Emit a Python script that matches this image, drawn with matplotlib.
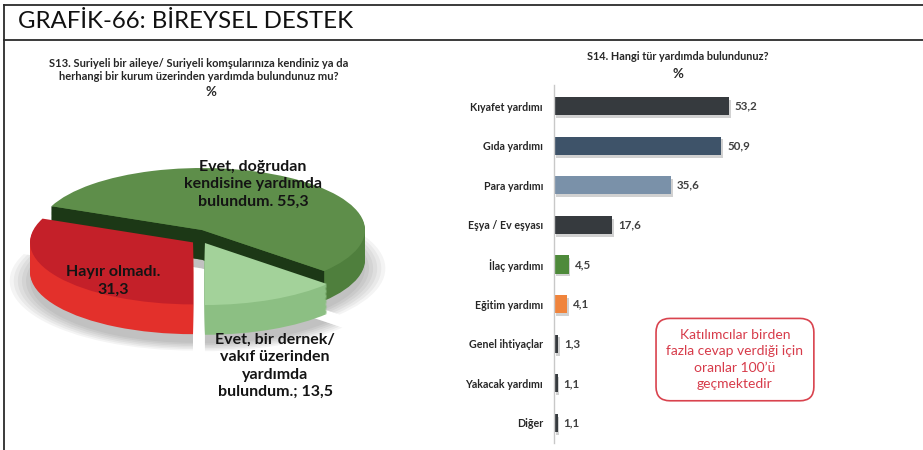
import numpy as np
import matplotlib.pyplot as plt
from matplotlib.patches import Polygon

plt.rcParams['font.family'] = ['Lato', 'DejaVu Sans']

# S13: yardım durumu (pasta)
pie_names = ['Hayır olmadı.', 'Evet, bir dernek/\nvakıf üzerinden\nyardımda\nbulundum.;', 'Evet, doğrudan\nkendisine yardımda\nbulundum.']
pie_values = [31.3, 13.5, 55.3]

# S14: yardım türleri (yatay çubuk)
help_types = ['Kıyafet yardımı', 'Gıda yardımı', 'Para yardımı', 'Eşya / Ev eşyası',
              'İlaç yardımı', 'Eğitim yardımı', 'Genel ihtiyaçlar', 'Yakacak yardımı', 'Diğer']
help_values = [53.2, 50.9, 35.6, 17.6, 4.5, 4.1, 1.3, 1.1, 1.1]


def fmt(v):
    return f'{v:.1f}'.replace('.', ',')


W, H = 923, 450


def fx(px):
    return px / W


def fy(py):
    return 1 - py / H


fig = plt.figure(figsize=(W / 100, H / 100), dpi=100)

# frame lines
for xs, ys in [((4, W), (5, 5)), ((4, W), (40, 40)), ((4, 4), (5, H))]:
    fig.add_artist(plt.Line2D([fx(x) for x in xs], [fy(y) for y in ys],
                              color='#2b2b2b', lw=1.3))

fig.text(fx(18), fy(22), 'GRAFİK-66: BİREYSEL DESTEK', fontsize=17.3,
         ha='left', va='center', color='#111111')

fig.text(fx(199), fy(70), 'S13. Suriyeli bir aileye/ Suriyeli komşularınıza kendiniz ya da\n'
         'herhangi bir kurum üzerinden yardımda bulundunuz mu?', fontsize=8,
         fontweight='bold', ha='center', va='center', color='#262626', linespacing=1.3)
fig.text(fx(211), fy(92), '%', fontsize=9.5, fontweight='bold', ha='center',
         va='center', color='#262626')

# ---- 3D-looking pie ----
ax = fig.add_axes([fx(20), fy(380), fx(370), 230 / H])
total = sum(pie_values)
start = 270 - 360 * pie_values[0] / total
depth = 0.48
shift = [(-0.055, -0.2), (0.018, -0.21), (0.0, 0.0)]
top_cols = ['#c42029', '#a3d29a', '#5e8e4a']
side_cols = ['#e3302b', '#8cbf83', '#4f7f3d']
z_side = [4, 6, 1]
z_top = [5, 7, 3]


def pie_layer(cy, cols, radius=1.0, alpha=1.0):
    wedges, _ = ax.pie(pie_values, colors=cols, startangle=start, radius=radius,
                       center=(0, cy), wedgeprops=dict(linewidth=0, alpha=alpha))
    for w, (dx, dy) in zip(wedges, shift):
        cx0, cy0 = w.center
        w.set_center((cx0 + dx, cy0 + dy))
    return wedges


# soft shadow
for i in range(6):
    for w in pie_layer(-depth - 0.14, ['#000000'] * 3, radius=1.0 + 0.025 * i, alpha=0.045):
        w.set_zorder(0)

# side walls
n_layers = 24
for k in range(n_layers, 0, -1):
    for i, w in enumerate(pie_layer(-depth * k / n_layers, side_cols)):
        w.set_zorder(z_side[i])

# cut faces of the big slice
ang = np.deg2rad(start)
ang2 = np.deg2rad(start + 360 * (pie_values[0] + pie_values[1]) / total)
for a in (ang, ang2):
    px, py = np.cos(a), np.sin(a)
    ax.add_patch(Polygon([(0, 0), (px, py), (px, py - depth), (0, -depth)],
                         closed=True, fc='#1c3816', ec='none', zorder=2))

for i, w in enumerate(pie_layer(0, top_cols)):
    w.set_zorder(z_top[i])

ax.set_aspect('auto')
ax.set_xlim(-(202 - 20) / 163, (390 - 202) / 163)
ax.set_ylim(-(380 - 230) / 62, (230 - 150) / 62)
ax.axis('off')

pie_text = dict(fontsize=11.5, fontweight='bold', ha='center', va='center',
                color='#141414', linespacing=1.3)
fig.text(fx(113), fy(281), f'{pie_names[0]}\n{fmt(pie_values[0])}', **pie_text)
fig.text(fx(275), fy(366), f'{pie_names[1]} {fmt(pie_values[1])}', **pie_text)
fig.text(fx(253), fy(184), f'{pie_names[2]} {fmt(pie_values[2])}', **pie_text)

# ---- bar chart ----
fig.text(fx(678), fy(57), 'S14. Hangi tür yardımda bulundunuz?', fontsize=7.8,
         fontweight='bold', ha='center', va='center', color='#262626')
fig.text(fx(678), fy(74), '%', fontsize=9.5, fontweight='bold', ha='center',
         va='center', color='#262626')

ax2 = fig.add_axes([fx(554), fy(443), fx(346), 358 / H])
pos = np.arange(len(help_types))
bar_cols = ['#363a3e', '#3e5369', '#7a91a9', '#363a3e', '#4e8a3a', '#f0843c',
            '#363a3e', '#363a3e', '#363a3e']
ax2.barh(pos + 0.07, help_values, left=0.5, height=0.46, color='#9a9a9a',
         alpha=0.45, zorder=1)
ax2.barh(pos, help_values, height=0.46, color=bar_cols, zorder=2)
for i, v in enumerate(help_values):
    ax2.text(v + 1.8, i, fmt(v), va='center', ha='left', fontsize=8.3,
             fontweight='bold', color='#404040')

ax2.set_xlim(0, 346 / 3.29)
ax2.set_ylim(8 + (443 - 423) / 39.6, -(106 - 85) / 39.6)
ax2.set_yticks(pos, help_types, fontsize=7.7, fontweight='bold', color='#262626')
ax2.set_xticks([])
ax2.tick_params(axis='y', length=0, pad=8)
for s in ['top', 'right', 'bottom']:
    ax2.spines[s].set_visible(False)
ax2.spines['left'].set_color('#c8c8c8')
ax2.spines['left'].set_linewidth(1)
ax2.patch.set_alpha(0)

ax2.text(55, 6.4, 'Katılımcılar birden\nfazla cevap verdiği için\noranlar 100’ü\ngeçmektedir',
         ha='center', va='center', fontsize=10, color='#d73b4a', linespacing=1.45,
         bbox=dict(boxstyle='round,pad=0.75,rounding_size=1.0', fc='white',
                   ec='#d9434e', lw=1.2))

fig.savefig('out.png', dpi=100)
